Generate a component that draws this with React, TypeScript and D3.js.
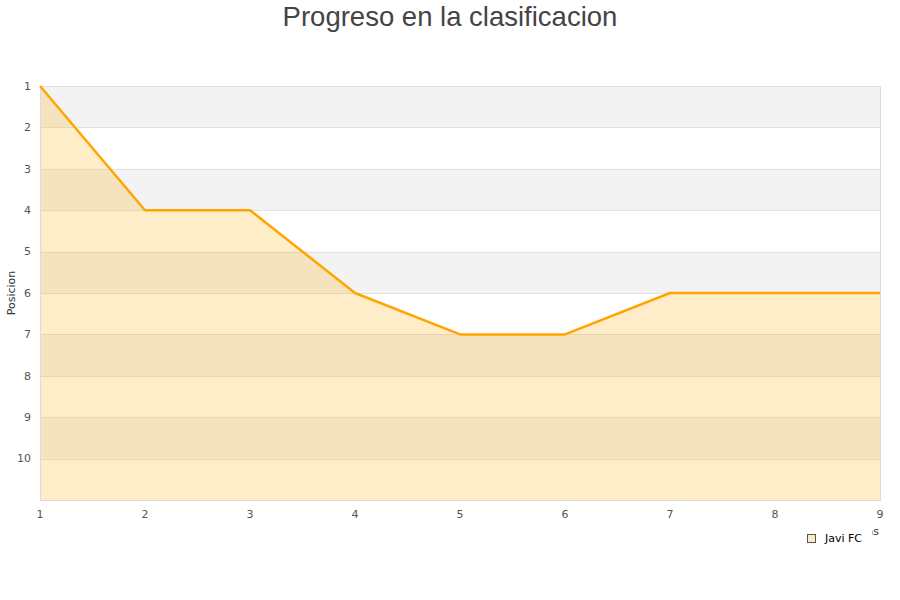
import { useRef, useEffect } from 'react';
import * as d3 from 'd3';

const jornadas = [1, 2, 3, 4, 5, 6, 7, 8, 9];
const posiciones = [1, 4, 4, 6, 7, 7, 6, 6, 6];
const yTicks = [1, 2, 3, 4, 5, 6, 7, 8, 9, 10];
const bandStarts = [1, 3, 5, 7, 9];
const serieNombre = 'Javi FC';

export default function App() {
    const svgRef = useRef<SVGSVGElement>(null);

    useEffect(() => {
        if (!svgRef.current) return;
        const svg = d3.select(svgRef.current);
        svg.selectAll('*').remove();

        const width = 900;
        const height = 600;
        const margin = { top: 86, right: 20, bottom: 100, left: 40 };

        const x = d3.scaleLinear().domain([1, 9]).range([margin.left, width - margin.right]);
        const y = d3.scaleLinear().domain([1, 11]).range([margin.top, height - margin.bottom]);

        const font = '"DejaVu Sans", sans-serif';

        // Title
        svg.append('text')
            .attr('x', width / 2)
            .attr('y', 26)
            .attr('text-anchor', 'middle')
            .attr('font-family', '"Liberation Sans", Arial, sans-serif')
            .attr('font-size', 27.5)
            .attr('fill', '#444')
            .text('Progreso en la clasificacion');

        // Background bands
        svg.append('g')
            .selectAll('rect')
            .data(bandStarts)
            .join('rect')
            .attr('x', x(1))
            .attr('width', x(9) - x(1))
            .attr('y', d => y(d))
            .attr('height', d => y(d + 1) - y(d))
            .attr('fill', '#f3f3f3');

        // Grid lines
        svg.append('g')
            .selectAll('line')
            .data(yTicks)
            .join('line')
            .attr('x1', x(1))
            .attr('x2', x(9))
            .attr('y1', d => Math.round(y(d)) + 0.5)
            .attr('y2', d => Math.round(y(d)) + 0.5)
            .attr('stroke', '#e2e2e2')
            .attr('stroke-width', 1);

        // Area
        const area = d3.area<number>()
            .x((_, i) => x(jornadas[i]))
            .y0(y(11))
            .y1(d => y(d));

        svg.append('path')
            .datum(posiciones)
            .attr('d', area)
            .attr('fill', 'rgba(255,170,0,0.21)');

        // Border
        svg.append('rect')
            .attr('x', x(1) + 0.5)
            .attr('y', y(1) + 0.5)
            .attr('width', x(9) - x(1))
            .attr('height', y(11) - y(1))
            .attr('fill', 'none')
            .attr('stroke', '#dcdcdc');

        // Line
        const line = d3.line<number>()
            .x((_, i) => x(jornadas[i]))
            .y(d => y(d));

        svg.append('path')
            .datum(posiciones)
            .attr('d', line)
            .attr('fill', 'none')
            .attr('stroke', '#ffa500')
            .attr('stroke-width', 2.5)
            .attr('stroke-linejoin', 'round');

        // Y tick labels
        svg.append('g')
            .selectAll('text')
            .data(yTicks)
            .join('text')
            .attr('x', 31)
            .attr('y', d => y(d))
            .attr('dy', '0.35em')
            .attr('text-anchor', 'end')
            .attr('font-family', font)
            .attr('font-size', 11)
            .attr('fill', '#555')
            .text(d => d);

        // X tick labels
        svg.append('g')
            .selectAll('text')
            .data(jornadas)
            .join('text')
            .attr('x', d => x(d))
            .attr('y', 514)
            .attr('dy', '0.35em')
            .attr('text-anchor', 'middle')
            .attr('font-family', font)
            .attr('font-size', 11)
            .attr('fill', '#555')
            .text(d => d);

        // Y axis title
        svg.append('text')
            .attr('transform', `translate(15,${y(6)}) rotate(-90)`)
            .attr('text-anchor', 'middle')
            .attr('font-family', font)
            .attr('font-size', 11)
            .attr('fill', '#333')
            .text('Posicion');

        // X axis title (mostly hidden behind legend)
        svg.append('text')
            .attr('x', 879)
            .attr('y', 535)
            .attr('text-anchor', 'end')
            .attr('font-family', font)
            .attr('font-size', 11)
            .attr('fill', '#333')
            .text('Jornadas');

        // Legend
        const legend = svg.append('g');
        legend.append('rect')
            .attr('x', 798)
            .attr('y', 527)
            .attr('width', 74)
            .attr('height', 24)
            .attr('fill', '#fff');
        legend.append('rect')
            .attr('x', 807.5)
            .attr('y', 534.5)
            .attr('width', 8)
            .attr('height', 8)
            .attr('fill', '#fdebc7')
            .attr('stroke', '#555');
        legend.append('text')
            .attr('x', 825)
            .attr('y', 538.5)
            .attr('dy', '0.35em')
            .attr('font-family', font)
            .attr('font-size', 11)
            .attr('fill', '#000')
            .text(serieNombre);
    }, []);

    return (
        <div style={{ position: 'absolute', left: 0, top: 0 }}>
            <svg ref={svgRef} width={900} height={600} style={{ display: 'block' }} />
        </div>
    );
}
